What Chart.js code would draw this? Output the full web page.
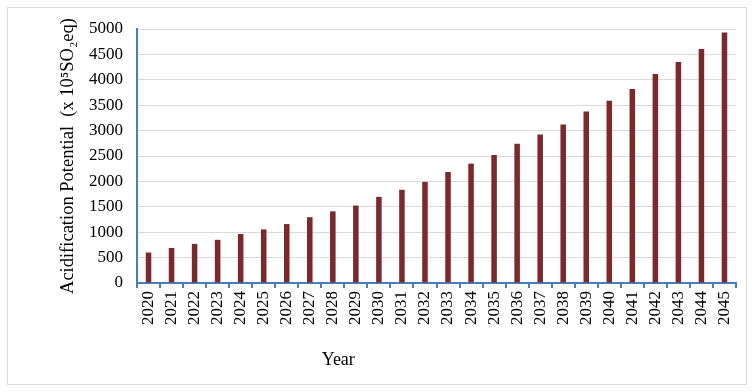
<!DOCTYPE html>
<html>
<head>
<meta charset="utf-8">
<script src="https://cdn.jsdelivr.net/npm/chart.js@4/dist/chart.umd.min.js"></script>
<style>
	html, body { margin: 0; padding: 0; background: #fff; }
	#wrap { width: 754px; height: 392px; }
</style>
</head>
<body>
<div id="wrap"><canvas id="apChart" width="754" height="392"></canvas></div>
<script>
const years = ["2020", "2021", "2022", "2023", "2024", "2025", "2026", "2027", "2028", "2029", "2030", "2031", "2032",
	"2033", "2034", "2035", "2036", "2037", "2038", "2039", "2040", "2041", "2042", "2043", "2044", "2045"];
const acidification = [600, 690, 770, 850, 965, 1055, 1160, 1295, 1410, 1525, 1695, 1835, 1990,
	2185, 2350, 2520, 2740, 2925, 3120, 3375, 3590, 3820, 4115, 4350, 4605, 4930];
const yTitle = "Acidification Potential  (x 10\u2075SO\u2082eq)";
const xTitle = "Year";

const axisBlue = "#4a7ebb";
const serif = "'Liberation Serif', 'Times New Roman', serif";

// outer frame + x title placed left of centre like the original
const framePlugin = {
	id: "frame",
	beforeDraw(chart) {
		const c = chart.ctx;
		c.save();
		c.fillStyle = "#fff";
		c.fillRect(0, 0, chart.width, chart.height);
		c.strokeStyle = "#d9d9d9";
		c.lineWidth = 1;
		c.strokeRect(7.5, 7.5, chart.width - 15, chart.height - 15);
		c.restore();
	},
	afterDraw(chart) {
		const a = chart.chartArea;
		const c = chart.ctx;
		c.save();
		c.font = "18px " + serif;
		c.fillStyle = "#000";
		c.textAlign = "center";
		c.textBaseline = "middle";
		c.fillText(xTitle, a.left + (a.right - a.left) * 0.336, a.bottom + 77);
		c.restore();
	},
};

const ctx = document.getElementById("apChart");
new Chart(ctx, {
	type: "bar",
	data: {
		labels: years,
		datasets: [{
			label: "Acidification Potential",
			data: acidification,
			backgroundColor: "#7a2a2a",
			barPercentage: 0.24,
			categoryPercentage: 1,
		}],
	},
	options: {
		responsive: false,
		animation: false,
		layout: { padding: { left: 57, right: 18, top: 29, bottom: 0 } },
		plugins: { legend: { display: false }, tooltip: { enabled: false } },
		scales: {
			x: {
				grid: { drawOnChartArea: false, drawTicks: true, tickLength: 5, color: axisBlue, lineWidth: 2 },
				border: { color: axisBlue, width: 2 },
				ticks: {
					autoSkip: false, minRotation: 90, maxRotation: 90, color: "#000", padding: 3,
					font: { family: serif, size: 17 },
				},
				afterFit(scale) { scale.height = 109; },
			},
			y: {
				min: 0,
				max: 5000,
				ticks: {
					stepSize: 500, color: "#000", padding: 14, font: { family: serif, size: 17 },
					callback: (v) => String(v),
				},
				grid: { color: "#d9d9d9", lineWidth: 1, drawTicks: false },
				border: { color: axisBlue, width: 2 },
				title: { display: true, text: yTitle, color: "#000", padding: { top: 0, bottom: 0 }, font: { family: serif, size: 18.5 } },
				afterFit(scale) { scale.width = 80; },
			},
		},
	},
	plugins: [framePlugin],
});
</script>
</body>
</html>
